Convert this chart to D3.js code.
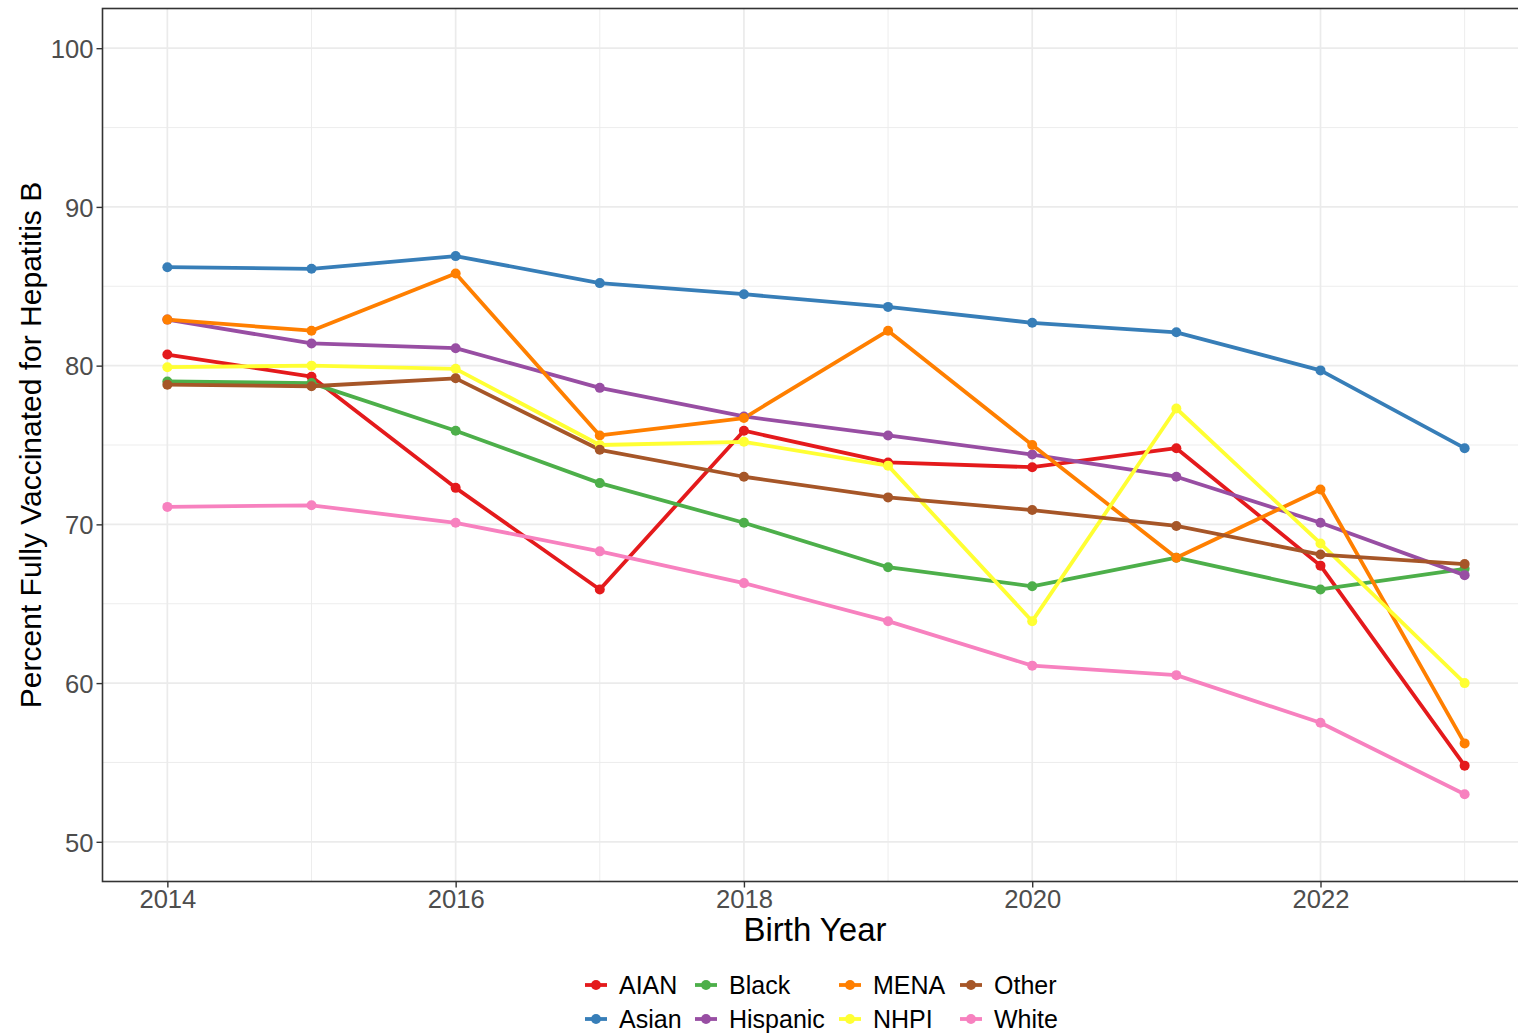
<!DOCTYPE html>
<html>
<head>
<meta charset="utf-8">
<script src="https://cdn.jsdelivr.net/npm/d3@7"></script>
<style>
  html, body { margin: 0; padding: 0; background: #fff; }
  svg { display: block; font-family: "Liberation Sans", Arial, sans-serif; }
</style>
</head>
<body>
<svg id="chart" width="1518" height="1034"></svg>
<script>
const years = [2014, 2015, 2016, 2017, 2018, 2019, 2020, 2021, 2022, 2023];
const groups = ["AIAN", "Asian", "Black", "Hispanic", "MENA", "NHPI", "Other", "White"];
const colors = ["#E41A1C", "#377EB8", "#4DAF4A", "#984EA3", "#FF7F00", "#FFFF33", "#A65628", "#F781BF"];
const AIAN     = [80.7, 79.3, 72.3, 65.9, 75.9, 73.9, 73.6, 74.8, 67.4, 54.8];
const Asian    = [86.2, 86.1, 86.9, 85.2, 84.5, 83.7, 82.7, 82.1, 79.7, 74.8];
const Black    = [79.0, 78.9, 75.9, 72.6, 70.1, 67.3, 66.1, 67.9, 65.9, 67.2];
const Hispanic = [82.9, 81.4, 81.1, 78.6, 76.8, 75.6, 74.4, 73.0, 70.1, 66.8];
const MENA     = [82.9, 82.2, 85.8, 75.6, 76.7, 82.2, 75.0, 67.9, 72.2, 56.2];
const NHPI     = [79.9, 80.0, 79.8, 75.0, 75.2, 73.7, 63.9, 77.3, 68.8, 60.0];
const Other    = [78.8, 78.7, 79.2, 74.7, 73.0, 71.7, 70.9, 69.9, 68.1, 67.5];
const White    = [71.1, 71.2, 70.1, 68.3, 66.3, 63.9, 61.1, 60.5, 57.5, 53.0];
const seriesValues = [AIAN, Asian, Black, Hispanic, MENA, NHPI, Other, White];
const xTicks = [2014, 2016, 2018, 2020, 2022];
const xMinor = [2015, 2017, 2019, 2021, 2023];
const yTicks = [50, 60, 70, 80, 90, 100];
const yMinor = [55, 65, 75, 85, 95];
const xTitle = "Birth Year";
const yTitle = "Percent Fully Vaccinated for Hepatitis B";

(function () {
const series = groups.map((g, i) => ({
  name: g, color: colors[i],
  values: years.map((yr, j) => ({ year: yr, value: seriesValues[i][j] }))
}));

const svg = d3.select("#chart");
const pL = 102.5, pR = 1529.5, pT = 8.5, pB = 881.5;
const x = d3.scaleLinear().domain([2013.55, 2023.45]).range([pL, pR]);
const y = d3.scaleLinear().domain([47.5, 102.5]).range([pB, pT]);
const LW = 3.8, PR = 5;

// grid
const grid = svg.append("g");
grid.selectAll(".ymin").data(yMinor).join("line")
  .attr("x1", pL).attr("x2", pR).attr("y1", d => y(d)).attr("y2", d => y(d))
  .attr("stroke", "#ebebeb").attr("stroke-width", 0.9);
grid.selectAll(".xmin").data(xMinor).join("line")
  .attr("y1", pT).attr("y2", pB).attr("x1", d => x(d)).attr("x2", d => x(d))
  .attr("stroke", "#ebebeb").attr("stroke-width", 0.9);
grid.selectAll(".ymaj").data(yTicks).join("line")
  .attr("x1", pL).attr("x2", pR).attr("y1", d => y(d)).attr("y2", d => y(d))
  .attr("stroke", "#ebebeb").attr("stroke-width", 1.7);
grid.selectAll(".xmaj").data(xTicks).join("line")
  .attr("y1", pT).attr("y2", pB).attr("x1", d => x(d)).attr("x2", d => x(d))
  .attr("stroke", "#ebebeb").attr("stroke-width", 1.7);

// lines
const line = d3.line().x(d => x(d.year)).y(d => y(d.value));
svg.append("g").selectAll("path").data(series).join("path")
  .attr("d", d => line(d.values))
  .attr("fill", "none").attr("stroke", d => d.color)
  .attr("stroke-width", LW).attr("stroke-linejoin", "round");

// points
svg.append("g").selectAll("g").data(series).join("g")
  .attr("fill", d => d.color)
  .selectAll("circle").data(d => d.values).join("circle")
  .attr("cx", d => x(d.year)).attr("cy", d => y(d.value)).attr("r", PR);

// panel border
svg.append("rect").attr("x", pL).attr("y", pT)
  .attr("width", pR - pL).attr("height", pB - pT)
  .attr("fill", "none").attr("stroke", "#333333").attr("stroke-width", 1.6);

// axes
const xAxis = d3.axisBottom(x).tickValues(xTicks).tickFormat(d3.format("d")).tickSize(6).tickPadding(2);
const gx = svg.append("g").attr("transform", `translate(0,${pB})`).call(xAxis);
const yAxis = d3.axisLeft(y).tickValues(yTicks).tickFormat(d3.format("d")).tickSize(6).tickPadding(3);
const gy = svg.append("g").attr("transform", `translate(${pL},0)`).call(yAxis);
[gx, gy].forEach(g => {
  g.select(".domain").remove();
  g.selectAll(".tick line").attr("stroke", "#333333").attr("stroke-width", 1.4);
  g.selectAll(".tick text").attr("fill", "#4D4D4D")
    .style("font-family", '"Liberation Sans", Arial, sans-serif').style("font-size", "25.6px");
});
gx.selectAll(".tick text").attr("dy", "0.72em");
gy.selectAll(".tick text").attr("dy", "0.36em");

// titles
svg.append("text").attr("x", 815).attr("y", 941)
  .attr("text-anchor", "middle").attr("fill", "#000").style("font-size", "33px").text(xTitle);
svg.append("text").attr("transform", `translate(41,${(pT + pB) / 2}) rotate(-90)`)
  .attr("text-anchor", "middle").attr("fill", "#000").style("font-size", "30px").text(yTitle);

// legend (filled by column, 2 rows)
const colX = [585, 695, 839, 960];
const rowY = [994, 1028];
const leg = svg.append("g").selectAll("g").data(series).join("g")
  .attr("transform", (d, i) => `translate(${colX[Math.floor(i / 2)]},${rowY[i % 2]})`);
leg.append("line").attr("x1", 0).attr("x2", 22).attr("y1", -9).attr("y2", -9)
  .attr("stroke", d => d.color).attr("stroke-width", LW);
leg.append("circle").attr("cx", 11).attr("cy", -9).attr("r", PR).attr("fill", d => d.color);
leg.append("text").attr("x", 34).attr("y", 0).attr("fill", "#000")
  .style("font-size", "25px").text(d => d.name);
})();
</script>
</body>
</html>
